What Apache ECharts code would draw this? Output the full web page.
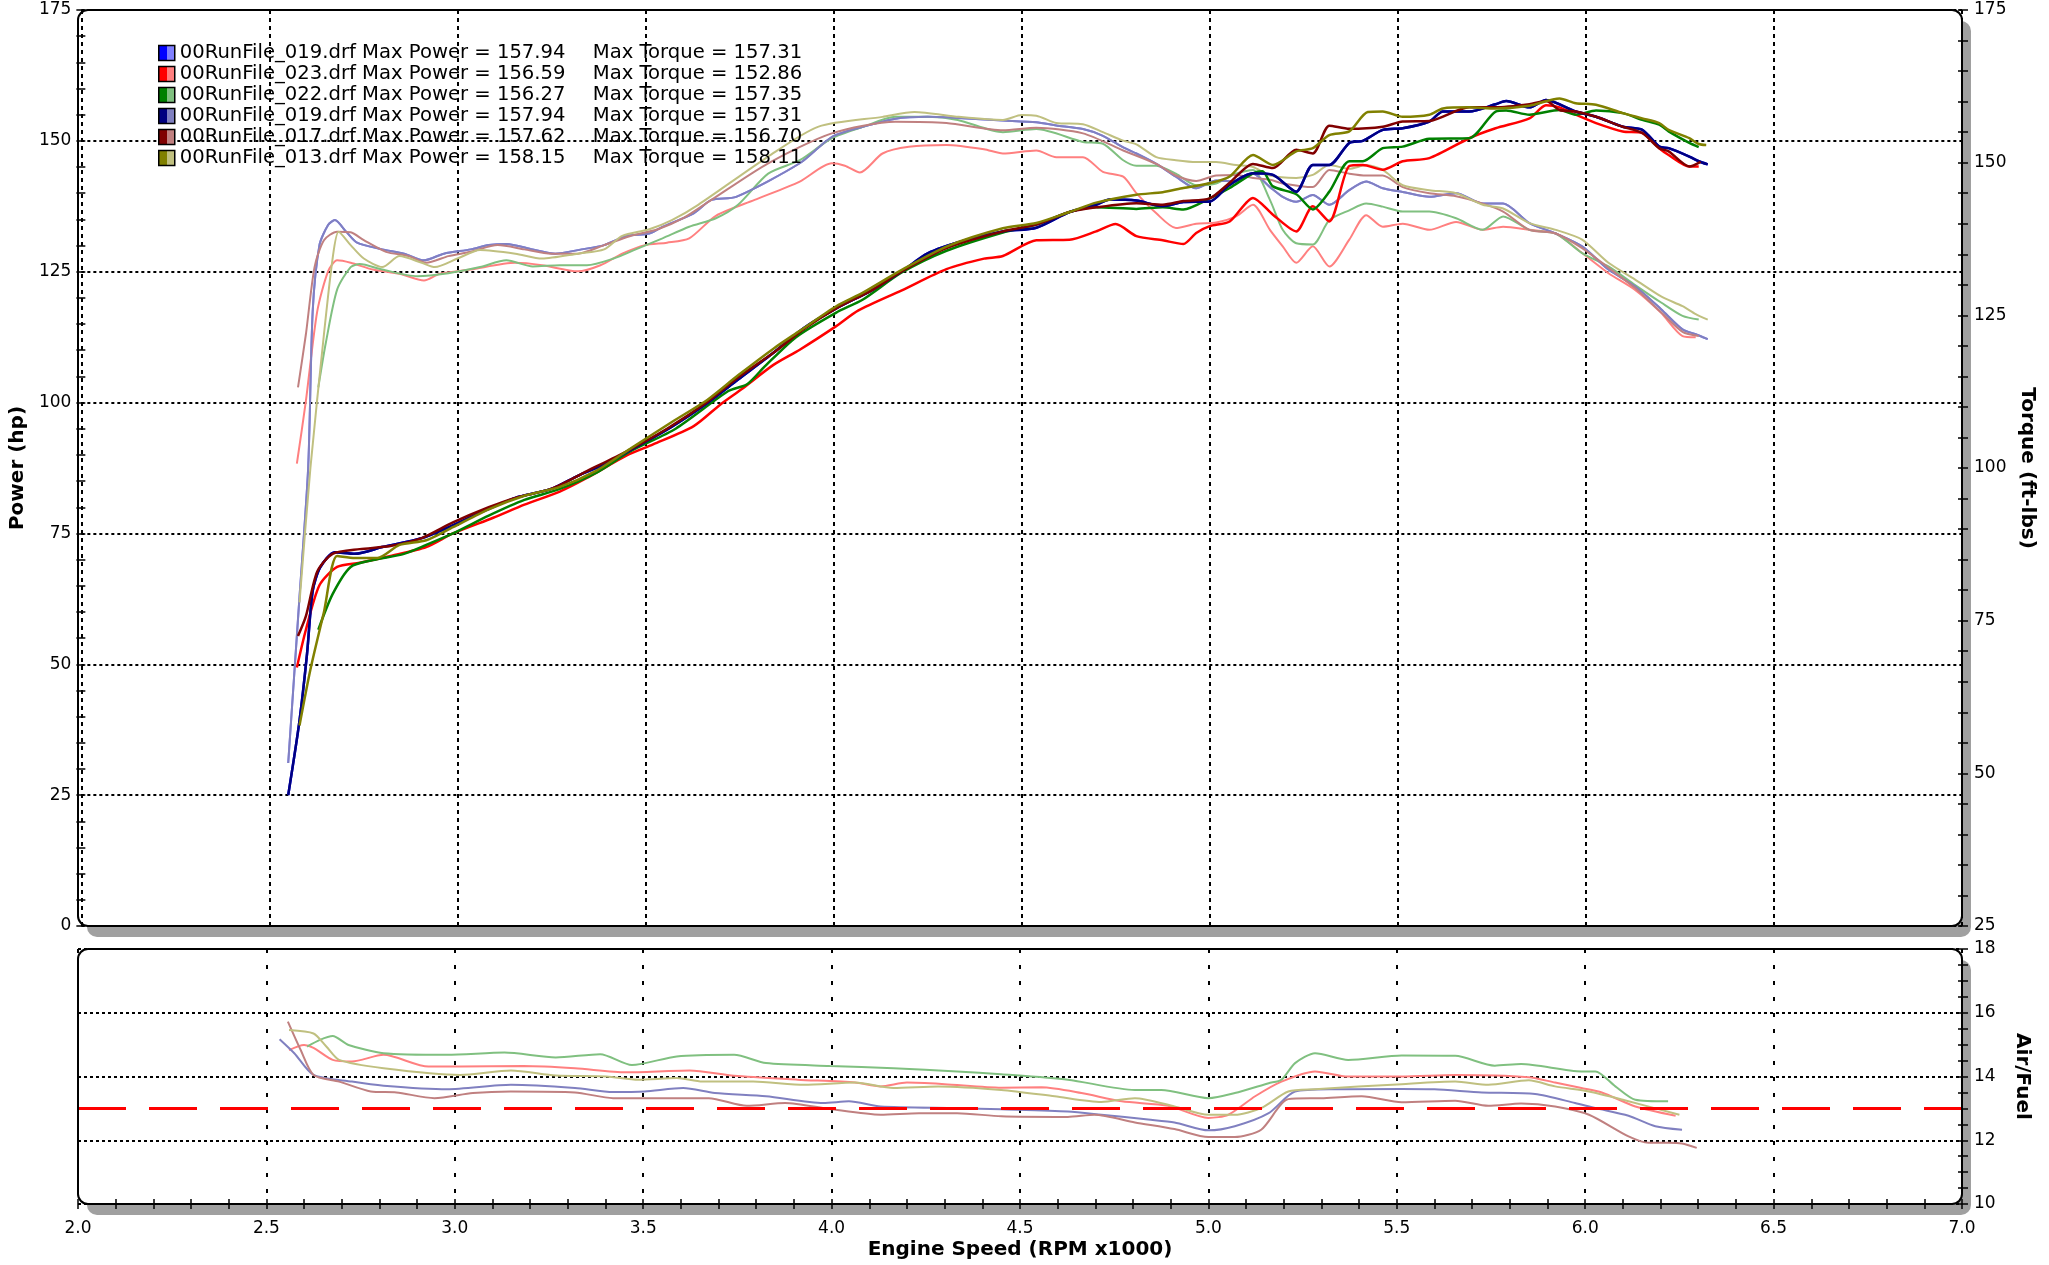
<!DOCTYPE html>
<html><head><meta charset="utf-8">
<script src="https://cdn.jsdelivr.net/npm/echarts@6/dist/echarts.min.js"></script>
<style>html,body{margin:0;padding:0;background:#fff}#c{width:2049px;height:1265px}</style>
</head><body><div id="c"></div><script>
// ---------- data ----------
const runFiles = ['00RunFile_019.drf','00RunFile_023.drf','00RunFile_022.drf','00RunFile_019.drf','00RunFile_017.drf','00RunFile_013.drf'];
const maxPower = ['157.94','156.59','156.27','157.94','157.62','158.15'];
const maxTorque = ['157.31','152.86','157.35','157.31','156.70','158.11'];
const darkColors = ['#0000ff','#ff0000','#008000','#000080','#800000','#808000'];
const lightColors = ['#8080ff','#ff8080','#80c080','#8080c0','#c08080','#c0c080'];
const afrTarget = 13;

const power019 = [[2.55,25],[2.579,38.7],[2.6,52],[2.615,64],[2.635,68.5],[2.674,71.4],[2.727,71.1],[2.8,72.4],[2.905,74.1],[2.964,75.8],[3.08,79.6],[3.154,81.8],[3.249,83.5],[3.32,86],[3.39,88.2],[3.51,92.9],[3.57,95.4],[3.66,99.7],[3.746,104.4],[3.84,109.5],[3.92,114.2],[4.007,118],[4.1,121.4],[4.18,125],[4.25,128.5],[4.35,131],[4.45,132.7],[4.539,133.4],[4.627,136.4],[4.698,137.8],[4.734,138.8],[4.805,138.6],[4.875,137.5],[4.93,138.3],[5.0,138.4],[5.053,141.6],[5.115,143.8],[5.168,143.5],[5.23,140.3],[5.274,145.4],[5.318,145.4],[5.371,149.6],[5.407,150],[5.46,152.1],[5.513,152.4],[5.584,153.7],[5.62,155.6],[5.69,155.6],[5.76,157],[5.788,157.6],[5.85,156.4],[5.894,157.8],[5.973,155.6],[6.027,154.6],[6.098,152.7],[6.15,152.1],[6.195,148.9],[6.22,148.6],[6.275,147],[6.3,146.1],[6.324,145.5]];
const power023 = [[2.573,49.4],[2.597,56.6],[2.633,65.1],[2.68,68.6],[2.74,69.4],[2.822,70.7],[2.917,72.4],[2.988,75],[3.095,78],[3.178,80.5],[3.272,83],[3.344,85.6],[3.45,89.9],[3.52,92],[3.628,95.5],[3.7,99.7],[3.758,102.7],[3.84,107.2],[3.91,110.1],[4.007,114.6],[4.066,117.6],[4.18,121.4],[4.3,125.5],[4.4,127.5],[4.45,128],[4.539,131],[4.627,131.1],[4.698,132.7],[4.75,134.1],[4.805,131.8],[4.875,131],[4.93,130.3],[4.964,132.4],[5.0,133.7],[5.053,134.6],[5.115,139.1],[5.168,135.9],[5.23,132.7],[5.274,137.5],[5.318,134.6],[5.371,145.2],[5.407,145.4],[5.46,144.5],[5.513,146.1],[5.584,146.7],[5.69,150.5],[5.76,152.4],[5.85,154.3],[5.894,156.8],[5.93,156.4],[5.973,155],[6.027,153.4],[6.098,151.8],[6.15,151.5],[6.195,148.6],[6.22,147.3],[6.275,145.1],[6.3,145.1]];
const power022 = [[2.63,56.6],[2.668,63.4],[2.716,68.6],[2.775,69.9],[2.858,71.1],[2.917,72.8],[2.988,75],[3.083,78.4],[3.178,81.4],[3.272,83.5],[3.367,86.5],[3.46,90.7],[3.58,95],[3.72,102.2],[3.77,103.5],[3.817,106.9],[3.9,112.5],[4.007,117.2],[4.078,119.7],[4.18,124.8],[4.3,129],[4.45,132.5],[4.539,134],[4.627,136.4],[4.698,137.3],[4.805,137],[4.875,137.3],[4.93,136.9],[5.0,139],[5.053,141],[5.115,143.8],[5.14,144.2],[5.168,141.3],[5.23,139.8],[5.274,136.9],[5.318,140.3],[5.371,146.1],[5.407,146.1],[5.46,148.6],[5.513,148.9],[5.584,150.4],[5.69,150.5],[5.76,155.6],[5.788,155.8],[5.85,155],[5.93,155.9],[5.973,155],[6.027,155.8],[6.098,155.3],[6.15,154],[6.195,153.1],[6.22,151.8],[6.275,149.6],[6.3,148.8]];
const power017 = [[2.576,55.4],[2.597,59.2],[2.627,67.7],[2.668,71.1],[2.74,72],[2.822,72.6],[2.905,74.1],[2.988,77.1],[3.083,80],[3.154,81.8],[3.249,83.5],[3.344,86.9],[3.45,90.7],[3.557,95],[3.664,100.1],[3.746,104.8],[3.84,109.5],[3.924,114.2],[4.007,118],[4.1,121.4],[4.18,125],[4.3,129.5],[4.45,132.7],[4.539,134],[4.627,136.4],[4.698,137.3],[4.805,138.1],[4.875,137.8],[4.93,138.5],[5.0,139],[5.053,142],[5.115,145.6],[5.168,144.8],[5.23,148.3],[5.274,147.6],[5.318,152.9],[5.371,152.3],[5.46,152.7],[5.513,153.7],[5.584,153.8],[5.69,156.4],[5.76,156.4],[5.85,157],[5.894,157.6],[5.93,155.9],[5.973,155.6],[6.027,154.6],[6.098,152.7],[6.15,151.5],[6.195,148.6],[6.22,148],[6.275,145.1],[6.305,146]];
const power013 = [[2.58,38.3],[2.609,49],[2.645,60],[2.68,70.7],[2.727,70.3],[2.787,70.3],[2.846,72.8],[2.917,73.7],[2.988,76.2],[3.083,79.6],[3.178,82.2],[3.272,83.9],[3.367,86.9],[3.46,91.2],[3.57,96.3],[3.664,100.5],[3.746,105.2],[3.84,110.3],[3.91,113.7],[4.007,118.4],[4.078,121],[4.18,125.3],[4.3,129.8],[4.45,133.3],[4.539,134.3],[4.627,136.4],[4.698,138.2],[4.805,139.7],[4.875,140.2],[4.93,141],[5.0,141.9],[5.053,143.2],[5.115,147.3],[5.168,145.4],[5.23,148],[5.274,148.6],[5.318,151.1],[5.371,151.8],[5.42,155.5],[5.46,155.6],[5.513,154.6],[5.584,155],[5.62,156.2],[5.69,156.4],[5.76,156.2],[5.85,156.7],[5.93,158.1],[5.973,157.2],[6.027,156.9],[6.098,155.3],[6.15,154.3],[6.195,153.4],[6.22,152.1],[6.275,150.5],[6.3,149.4],[6.32,149.2]];

const torque019 = [[2.55,51.7],[2.579,78],[2.603,100],[2.615,125.6],[2.633,136.5],[2.656,139.8],[2.674,140.6],[2.704,138.7],[2.733,136.9],[2.8,135.8],[2.858,135.1],[2.911,134],[2.964,135.1],[3.035,135.8],[3.083,136.5],[3.13,136.7],[3.2,135.8],[3.26,135.1],[3.33,135.8],[3.39,136.5],[3.45,138],[3.51,138.4],[3.545,139.5],[3.628,141.7],[3.675,143.9],[3.741,144.4],[3.91,149.9],[3.995,154.2],[4.08,155.9],[4.164,157.2],[4.25,157.5],[4.33,157.3],[4.45,156.9],[4.539,156.6],[4.592,156.1],[4.663,155.5],[4.716,154.4],[4.77,152.5],[4.805,151.5],[4.858,149.8],[4.91,147.7],[4.964,145.8],[5.017,147.1],[5.07,146.9],[5.115,148.2],[5.16,146],[5.194,144.4],[5.23,143.6],[5.274,144.7],[5.318,143.1],[5.371,145.5],[5.416,146.9],[5.46,145.8],[5.513,145.2],[5.584,144.4],[5.655,145],[5.726,143.3],[5.78,143.3],[5.85,140.1],[5.92,138.4],[5.99,136.3],[6.06,132.5],[6.13,129.8],[6.2,126],[6.257,122.7],[6.292,121.9],[6.324,121.1]];
const torque023 = [[2.573,100.7],[2.597,111],[2.627,125.6],[2.656,132.2],[2.68,134],[2.716,133.6],[2.775,132.5],[2.846,131.8],[2.911,130.7],[2.953,131.8],[3.035,132.5],[3.154,133.6],[3.225,133.2],[3.32,132.2],[3.38,133.2],[3.438,135.1],[3.498,136.5],[3.557,136.9],[3.616,137.6],[3.687,141.3],[3.79,143.9],[3.91,146.9],[3.995,149.9],[4.03,149.5],[4.07,148.4],[4.13,151.5],[4.2,152.6],[4.3,152.9],[4.4,152.2],[4.45,151.5],[4.539,152],[4.592,150.9],[4.663,150.9],[4.716,148.5],[4.77,147.7],[4.805,145],[4.858,141.7],[4.91,139.3],[4.964,140],[5.017,140.2],[5.07,141.2],[5.115,143.1],[5.16,139],[5.194,136.3],[5.23,133.6],[5.274,136.3],[5.318,133],[5.371,137.4],[5.416,141.4],[5.46,139.5],[5.513,140],[5.584,139],[5.655,140.3],[5.726,139],[5.78,139.5],[5.85,139],[5.92,138.4],[5.99,135.2],[6.06,131.9],[6.13,129.2],[6.2,125.4],[6.257,121.6],[6.292,121.4]];
const torque022 = [[2.63,113.2],[2.65,120.5],[2.68,129.2],[2.716,132.9],[2.74,133.4],[2.8,132.5],[2.893,131.4],[2.976,131.9],[3.06,132.9],[3.13,134],[3.2,133],[3.272,133.2],[3.344,133.2],[3.415,134.3],[3.474,135.8],[3.545,137.6],[3.616,139.5],[3.687,140.9],[3.746,143.1],[3.826,148.2],[3.91,150.4],[3.995,154],[4.08,155.9],[4.164,157.5],[4.25,157.5],[4.33,157],[4.45,155],[4.539,155.5],[4.663,153.4],[4.716,153.1],[4.77,150.4],[4.805,149.5],[4.858,149.5],[4.91,148.2],[4.964,146.3],[5.017,146.6],[5.07,148.2],[5.115,148.8],[5.16,143.9],[5.194,139],[5.23,136.8],[5.274,136.6],[5.318,140.6],[5.371,142.2],[5.416,143.3],[5.46,142.8],[5.513,142],[5.584,142],[5.655,140.9],[5.726,139],[5.78,141.2],[5.85,139],[5.92,138.4],[5.99,135.2],[6.06,133],[6.13,130],[6.2,127.1],[6.257,124.9],[6.3,124.3]];
const torque017 = [[2.576,113.2],[2.597,121.9],[2.62,132.9],[2.645,137.3],[2.68,138.7],[2.716,138.6],[2.751,137.3],[2.81,135.4],[2.87,134.7],[2.917,133.6],[2.976,134.7],[3.035,135.4],[3.107,136.5],[3.178,135.8],[3.249,135.1],[3.32,135.1],[3.39,136.5],[3.46,138],[3.533,139.1],[3.6,140.9],[3.675,143.9],[3.826,149.9],[3.995,154.8],[4.164,156.7],[4.3,156.5],[4.45,155.3],[4.539,155.7],[4.663,154.8],[4.77,152],[4.858,149.8],[4.91,147.9],[4.964,147],[5.017,147.9],[5.07,148],[5.115,147.5],[5.16,147.2],[5.194,146.6],[5.274,146],[5.318,148.8],[5.371,148.2],[5.416,147.9],[5.46,147.9],[5.513,146],[5.584,145],[5.655,144.5],[5.726,143.3],[5.78,142],[5.85,139],[5.92,138.4],[5.99,136],[6.06,132.8],[6.13,129.5],[6.2,125.5],[6.257,122.3],[6.3,121.6]];
const torque013 = [[2.58,78],[2.609,100],[2.645,121.9],[2.668,134.3],[2.684,138.7],[2.716,136.5],[2.751,134.3],[2.8,132.9],[2.846,134.7],[2.905,133.6],[2.94,132.9],[3.0,134.3],[3.06,135.7],[3.154,135.1],[3.225,134.3],[3.32,135.1],[3.39,135.8],[3.438,138],[3.51,139.1],[3.57,140.6],[3.64,143.1],[3.826,151],[3.96,155.9],[4.13,157.5],[4.215,158.3],[4.333,157.5],[4.45,157],[4.5,157.8],[4.539,157.7],[4.592,156.5],[4.663,156.3],[4.716,155],[4.77,153.6],[4.805,153],[4.858,150.9],[4.91,150.4],[4.964,150.1],[5.017,150.1],[5.07,149.6],[5.115,149.3],[5.16,147.9],[5.23,147.5],[5.274,148],[5.318,149.6],[5.371,149],[5.416,149.6],[5.46,148.8],[5.513,146.3],[5.584,145.5],[5.655,145],[5.726,143.1],[5.78,142.5],[5.85,140.1],[5.92,139],[5.99,137.4],[6.06,133.6],[6.13,130.9],[6.2,128.1],[6.257,126.5],[6.292,125.2],[6.324,124.3]];

const afr019 = [[2.535,15.17],[2.574,14.73],[2.625,14.05],[2.727,13.84],[2.811,13.71],[2.98,13.6],[3.149,13.74],[3.319,13.64],[3.42,13.51],[3.504,13.53],[3.606,13.64],[3.69,13.48],[3.826,13.38],[3.978,13.17],[4.046,13.22],[4.13,13.06],[4.333,13.01],[4.45,12.97],[4.627,12.9],[4.716,12.8],[4.84,12.65],[4.91,12.56],[5.0,12.31],[5.07,12.44],[5.16,12.85],[5.23,13.53],[5.336,13.6],[5.513,13.61],[5.6,13.6],[5.726,13.5],[5.867,13.45],[5.973,13.17],[6.027,13.01],[6.115,12.77],[6.186,12.44],[6.257,12.33]];
const afr023 = [[2.56,14.83],[2.6,14.99],[2.625,14.9],[2.676,14.52],[2.727,14.47],[2.811,14.68],[2.93,14.31],[3.014,14.31],[3.183,14.33],[3.319,14.26],[3.454,14.13],[3.623,14.19],[3.741,14.02],[3.91,13.9],[4.062,13.81],[4.13,13.69],[4.2,13.81],[4.3,13.76],[4.45,13.65],[4.557,13.66],[4.663,13.48],[4.77,13.22],[4.893,13.08],[5.0,12.7],[5.053,12.8],[5.124,13.38],[5.194,13.84],[5.283,14.16],[5.37,14.0],[5.513,14.0],[5.655,14.05],[5.85,13.98],[5.92,13.81],[5.99,13.64],[6.044,13.5],[6.133,13.06],[6.24,12.77]];
const afr022 = [[2.608,14.94],[2.642,15.15],[2.676,15.27],[2.718,14.99],[2.811,14.73],[2.98,14.68],[3.132,14.75],[3.268,14.6],[3.386,14.7],[3.47,14.36],[3.589,14.63],[3.741,14.68],[3.826,14.42],[3.995,14.33],[4.164,14.26],[4.333,14.16],[4.45,14.07],[4.627,13.9],[4.805,13.58],[4.875,13.58],[5.0,13.32],[5.07,13.48],[5.16,13.79],[5.194,13.9],[5.23,14.42],[5.283,14.73],[5.371,14.52],[5.513,14.66],[5.655,14.65],[5.76,14.34],[5.83,14.39],[5.99,14.16],[6.027,14.16],[6.08,13.69],[6.133,13.27],[6.22,13.22]];
const afr017 = [[2.557,15.72],[2.591,14.83],[2.625,14.05],[2.693,13.84],[2.777,13.53],[2.845,13.5],[2.946,13.32],[3.048,13.48],[3.149,13.53],[3.319,13.5],[3.42,13.32],[3.572,13.32],[3.674,13.32],[3.775,13.08],[3.877,13.17],[3.995,12.98],[4.13,12.8],[4.232,12.85],[4.333,12.85],[4.45,12.75],[4.627,12.73],[4.698,12.8],[4.805,12.56],[4.91,12.35],[5.0,12.1],[5.07,12.1],[5.14,12.33],[5.212,13.29],[5.3,13.32],[5.407,13.38],[5.513,13.19],[5.655,13.24],[5.743,13.08],[5.83,13.15],[5.92,13.06],[6.01,12.8],[6.115,12.12],[6.168,11.92],[6.22,11.92],[6.257,11.9],[6.296,11.76]];
const afr013 = [[2.56,15.46],[2.625,15.35],[2.659,14.94],[2.693,14.52],[2.811,14.26],[3.014,14.05],[3.149,14.19],[3.268,14.03],[3.403,14.0],[3.487,13.9],[3.589,13.95],[3.657,13.84],[3.792,13.84],[3.927,13.74],[4.062,13.81],[4.164,13.64],[4.283,13.69],[4.45,13.58],[4.592,13.38],[4.716,13.2],[4.805,13.32],[4.91,13.06],[5.0,12.8],[5.07,12.8],[5.14,13.01],[5.212,13.53],[5.283,13.6],[5.513,13.76],[5.655,13.84],[5.743,13.74],[5.85,13.88],[5.92,13.69],[6.01,13.53],[6.1,13.27],[6.25,12.8]];

const powerRuns = [power019, power023, power022, power019, power017, power013];
const torqueRuns = [torque019, torque023, torque022, torque019, torque017, torque013];
const afrRuns = [afr019, afr023, afr022, afr019, afr017, afr013];

// ---------- layout ----------
const G1 = {left:78, top:10, width:1884, height:916};
const G2 = {left:78, top:949, width:1884, height:255};
const FONT = 'DejaVu Sans';
const lbl = {fontFamily:FONT, fontSize:17, color:'#000'};
const tickStyle = {color:'#000', width:1.5};
const nameStyle = {fontFamily:FONT, fontSize:20, fontWeight:'bold', color:'#000'};

function panel(g) {
  return [
    {type:'rect', z:-20, silent:true, shape:{x:g.left+9, y:g.top+11, width:g.width, height:g.height, r:10}, style:{fill:'#a0a0a0'}},
    {type:'rect', z:-19, silent:true, shape:{x:g.left, y:g.top, width:g.width, height:g.height, r:10}, style:{fill:'#ffffff'}},
    {type:'rect', z:50, silent:true, shape:{x:g.left, y:g.top, width:g.width, height:g.height, r:10}, style:{fill:'transparent', stroke:'#000', lineWidth:2}}
  ];
}

const series = [];
torqueRuns.forEach((d,i)=>series.push({name:'tq'+i, type:'line', xAxisIndex:0, yAxisIndex:1, data:d, showSymbol:false, smooth:0.25, lineStyle:{color:lightColors[i], width:2}, itemStyle:{color:lightColors[i]}, z:3}));
powerRuns.forEach((d,i)=>series.push({name:'run'+i, type:'line', xAxisIndex:0, yAxisIndex:0, data:d, showSymbol:false, smooth:0.25, lineStyle:{color:darkColors[i], width:2.5}, itemStyle:{color:darkColors[i]}, z:4}));
afrRuns.forEach((d,i)=>{
  if (i===0) return;
  series.push({name:'afr'+i, type:'line', xAxisIndex:1, yAxisIndex:2, data:d, showSymbol:false, smooth:0.25, lineStyle:{color:lightColors[i], width:2}, itemStyle:{color:lightColors[i]}, z:3});
});
series.push({name:'afrTarget', type:'line', xAxisIndex:1, yAxisIndex:2, data:[], showSymbol:false,
  markLine:{silent:true, symbol:'none', label:{show:false}, animation:false,
    lineStyle:{color:'#ff0000', width:3, type:[48,23]}, data:[{yAxis:afrTarget}]}, z:5});

const xBase = {type:'value', min:2, max:7, interval:0.5};
const option = {
  animation:false,
  backgroundColor:'#ffffff',
  grid:[Object.assign({containLabel:false}, G1), Object.assign({containLabel:false}, G2)],
  graphic: panel(G1).concat(panel(G2)),
  legend:{
    left:158, top:43, orient:'vertical', padding:0, itemWidth:16, itemHeight:15, itemGap:1,
    icon:'rect', selectedMode:false,
    data: runFiles.map((f,i)=>({name:'run'+i, icon:'rect', itemStyle:{color:{type:'linear',x:0,y:0,x2:1,y2:0,colorStops:[{offset:0,color:darkColors[i]},{offset:0.5,color:darkColors[i]},{offset:0.5,color:lightColors[i]},{offset:1,color:lightColors[i]}]}, borderColor:'#000', borderWidth:1.5}})),
    formatter: name => { const i = +name.slice(3); return '{a|' + runFiles[i] + ' Max Power = ' + maxPower[i] + '}{b|Max Torque = ' + maxTorque[i] + '}'; },
    textStyle:{fontFamily:FONT, fontSize:19.6, color:'#000', lineHeight:20,
      rich:{a:{width:413, fontFamily:FONT, fontSize:19.6, color:'#000', lineHeight:20}, b:{fontFamily:FONT, fontSize:19.6, color:'#000', lineHeight:20}}}
  },
  xAxis:[
    Object.assign({}, xBase, {gridIndex:0, axisLine:{show:false, onZero:false}, axisTick:{show:false}, axisLabel:{show:false},
      splitLine:{show:true, lineStyle:{color:'#000', width:2, type:[4,4]}}}),
    Object.assign({}, xBase, {gridIndex:1, position:'bottom', axisLine:{show:false, onZero:false},
      axisTick:{show:true, inside:false, length:5, lineStyle:tickStyle},
      minorTick:{show:true, splitNumber:5, length:5, lineStyle:tickStyle},
      axisLabel:Object.assign({show:true, margin:16, formatter:v=>v.toFixed(1)}, lbl),
      splitLine:{show:true, lineStyle:{color:'#000', width:2, type:[4,12]}},
      name:'Engine Speed (RPM x1000)', nameLocation:'middle', nameGap:36, nameTextStyle:nameStyle}),
    Object.assign({}, xBase, {gridIndex:1, position:'bottom', axisLine:{show:false, onZero:false},
      axisTick:{show:true, inside:true, length:5, lineStyle:tickStyle},
      minorTick:{show:true, splitNumber:5, length:5, lineStyle:tickStyle},
      axisLabel:{show:false}, splitLine:{show:false}})
  ],
  yAxis:[
    {type:'value', gridIndex:0, position:'left', min:0, max:175, interval:25,
      axisLine:{show:false}, axisTick:{show:true, length:5, lineStyle:tickStyle},
      minorTick:{show:true, splitNumber:5, length:5, lineStyle:tickStyle},
      axisLabel:Object.assign({margin:10}, lbl),
      splitLine:{show:true, lineStyle:{color:'#000', width:2, type:[3,3]}},
      name:'Power (hp)', nameLocation:'middle', nameGap:51, nameTextStyle:nameStyle},
    {type:'value', gridIndex:0, position:'right', min:25, max:175, interval:25,
      axisLine:{show:false}, axisTick:{show:true, length:6, lineStyle:tickStyle},
      minorTick:{show:true, splitNumber:5, length:6, lineStyle:tickStyle},
      axisLabel:Object.assign({margin:12}, lbl), splitLine:{show:false},
      name:'Torque (ft-lbs)', nameLocation:'middle', nameGap:50, nameRotate:-90, nameTextStyle:nameStyle},
    {type:'value', gridIndex:1, position:'right', min:10, max:18, interval:2,
      axisLine:{show:false}, axisTick:{show:true, length:6, lineStyle:tickStyle},
      minorTick:{show:true, splitNumber:4, length:6, lineStyle:tickStyle},
      axisLabel:Object.assign({margin:12}, lbl),
      splitLine:{show:true, lineStyle:{color:'#000', width:2, type:[3,3]}},
      name:'Air/Fuel', nameLocation:'middle', nameGap:50, nameRotate:-90, nameTextStyle:nameStyle},
    {type:'value', gridIndex:0, position:'left', min:0, max:175, interval:25,
      axisLine:{show:false}, axisTick:{show:true, inside:true, length:4, lineStyle:tickStyle},
      minorTick:{show:true, splitNumber:5, length:4, lineStyle:tickStyle},
      axisLabel:{show:false}, splitLine:{show:false}},
    {type:'value', gridIndex:0, position:'right', min:25, max:175, interval:25,
      axisLine:{show:false}, axisTick:{show:true, inside:true, length:4, lineStyle:tickStyle},
      minorTick:{show:true, splitNumber:5, length:4, lineStyle:tickStyle},
      axisLabel:{show:false}, splitLine:{show:false}},
    {type:'value', gridIndex:1, position:'right', min:10, max:18, interval:2,
      axisLine:{show:false}, axisTick:{show:true, inside:true, length:4, lineStyle:tickStyle},
      minorTick:{show:true, splitNumber:4, length:4, lineStyle:tickStyle},
      axisLabel:{show:false}, splitLine:{show:false}}
  ],
  series: series
};
const chart = echarts.init(document.getElementById('c'), null, {renderer:'canvas'});
chart.setOption(option);
</script></body></html>
